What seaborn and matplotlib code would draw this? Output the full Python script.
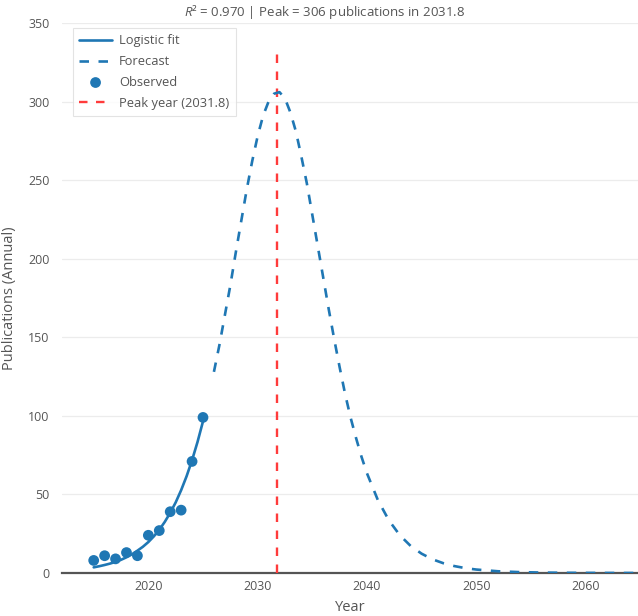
"""Logistic growth forecast of annual publications."""

import matplotlib
matplotlib.use("Agg")
import matplotlib.pyplot as plt
import pandas as pd
import seaborn as sns

# Observed annual publication counts
obs_years = [2015, 2016, 2017, 2018, 2019, 2020, 2021, 2022, 2023, 2024, 2025]
obs_counts = [8, 11, 9, 13, 11, 24, 27, 39, 40, 71, 99]

# Fitted curve over the observed range
fit_years = [2015, 2015.5, 2016, 2016.5, 2017, 2017.5, 2018, 2018.5, 2019, 2019.5,
             2020, 2020.5, 2021, 2021.5, 2022, 2022.5, 2023, 2023.5, 2024, 2024.5, 2025]
fit_counts = [3.6, 4.3, 5.1, 6.0, 7.1, 8.4, 10.0, 11.9, 14.2, 16.7,
              19.7, 23.3, 27.5, 32.5, 38.3, 44.9, 52.7, 61.6, 71.8, 83.4, 96.5]

# Forecast part of the curve
fc_years = [2026, 2026.5, 2027, 2027.5, 2028, 2028.5, 2029, 2029.5, 2030, 2030.5,
            2031, 2031.5, 2032, 2032.5, 2033, 2033.5, 2034, 2034.5, 2035, 2035.5,
            2036, 2036.5, 2037, 2037.5, 2038, 2038.5, 2039, 2039.5, 2040,
            2041, 2042, 2043, 2044, 2045, 2046, 2047, 2048, 2049, 2050,
            2052, 2054, 2056, 2058, 2060, 2062, 2065]
fc_counts = [128, 145, 164, 183, 204, 224, 244, 262, 278, 291,
             300, 305, 306, 302, 293, 281, 265, 248, 228, 208,
             188, 168, 149, 131, 114, 99, 86, 74, 63.5,
             46.4, 33.6, 24.1, 17.2, 12.3, 8.7, 6.2, 4.4, 3.1, 2.2,
             1.1, 0.55, 0.28, 0.14, 0.07, 0.03, 0.01]

peak_year = 2031.8
peak_value = 306
peak_line_top = 332
r_squared = 0.970

BLUE = "#1f77b4"
RED = "#ff3b3b"
TEXT = "#555555"

sns.set_theme(style="white")
plt.rcParams.update({
    "font.family": ["Open Sans", "DejaVu Sans"],
    "mathtext.fontset": "custom",
    "mathtext.rm": "Open Sans",
    "mathtext.it": "Open Sans:italic",
    "text.color": TEXT,
    "axes.labelcolor": TEXT,
    "xtick.color": TEXT,
    "ytick.color": TEXT,
})

obs = pd.DataFrame({"year": obs_years, "count": obs_counts})
fit = pd.DataFrame({"year": fit_years, "count": fit_counts})
fc = pd.DataFrame({"year": fc_years, "count": fc_counts})

fig = plt.figure(figsize=(6.38, 6.16), dpi=100)
ax = fig.add_axes([62 / 638, 43 / 616, 576 / 638, 550 / 616])

dash = (0, (3.6, 3.6))
sns.lineplot(data=fit, x="year", y="count", color=BLUE, linewidth=1.9,
             label="Logistic fit", ax=ax, zorder=4)
sns.lineplot(data=fc, x="year", y="count", color=BLUE, linewidth=1.9,
             linestyle=dash, label="Forecast", ax=ax, zorder=4)
sns.scatterplot(data=obs, x="year", y="count", color=BLUE, s=60,
                edgecolor="none", label="Observed", ax=ax, zorder=5)
ax.plot([peak_year, peak_year], [0, peak_line_top], color=RED, linewidth=1.7,
        linestyle=dash, label=f"Peak year ({peak_year})", zorder=3)

ax.set_xlim(2012.1, 2064.8)
ax.set_ylim(0, 350)
ax.set_xticks([2020, 2030, 2040, 2050, 2060])
ax.set_yticks(range(0, 351, 50))
ax.tick_params(axis="both", length=0, labelsize=8.9)
ax.tick_params(axis="x", pad=5)
ax.tick_params(axis="y", pad=9)

ax.yaxis.grid(True, color="#ececec", linewidth=0.9)
ax.xaxis.grid(False)
for side in ["left", "right", "top"]:
    ax.spines[side].set_visible(False)
ax.spines["bottom"].set_color("#555555")
ax.spines["bottom"].set_linewidth(1.6)

ax.set_xlabel("Year", fontsize=10.5, labelpad=5)
ax.set_ylabel("Publications (Annual)", fontsize=10.5, labelpad=8)
fig.text(325 / 638, 1 - 12 / 616,
         rf"$R$² = {r_squared:.3f} | Peak = {peak_value} publications in {peak_year}",
         fontsize=9.5, ha="center", va="center", color=TEXT)

handles, labels = ax.get_legend_handles_labels()
order = ["Logistic fit", "Forecast", "Observed", f"Peak year ({peak_year})"]
hmap = dict(zip(labels, handles))
leg = ax.legend([hmap[k] for k in order], order, loc="upper left",
                bbox_to_anchor=(0.019, 0.991), fontsize=9.3, frameon=True,
                fancybox=False, edgecolor="#dddddd", handlelength=2.5,
                labelspacing=0.6, borderpad=0.5, handletextpad=0.55,
                borderaxespad=0.0)
leg.get_frame().set_linewidth(0.8)
for t in leg.get_texts():
    t.set_color(TEXT)

fig.savefig("out.png", dpi=100)
